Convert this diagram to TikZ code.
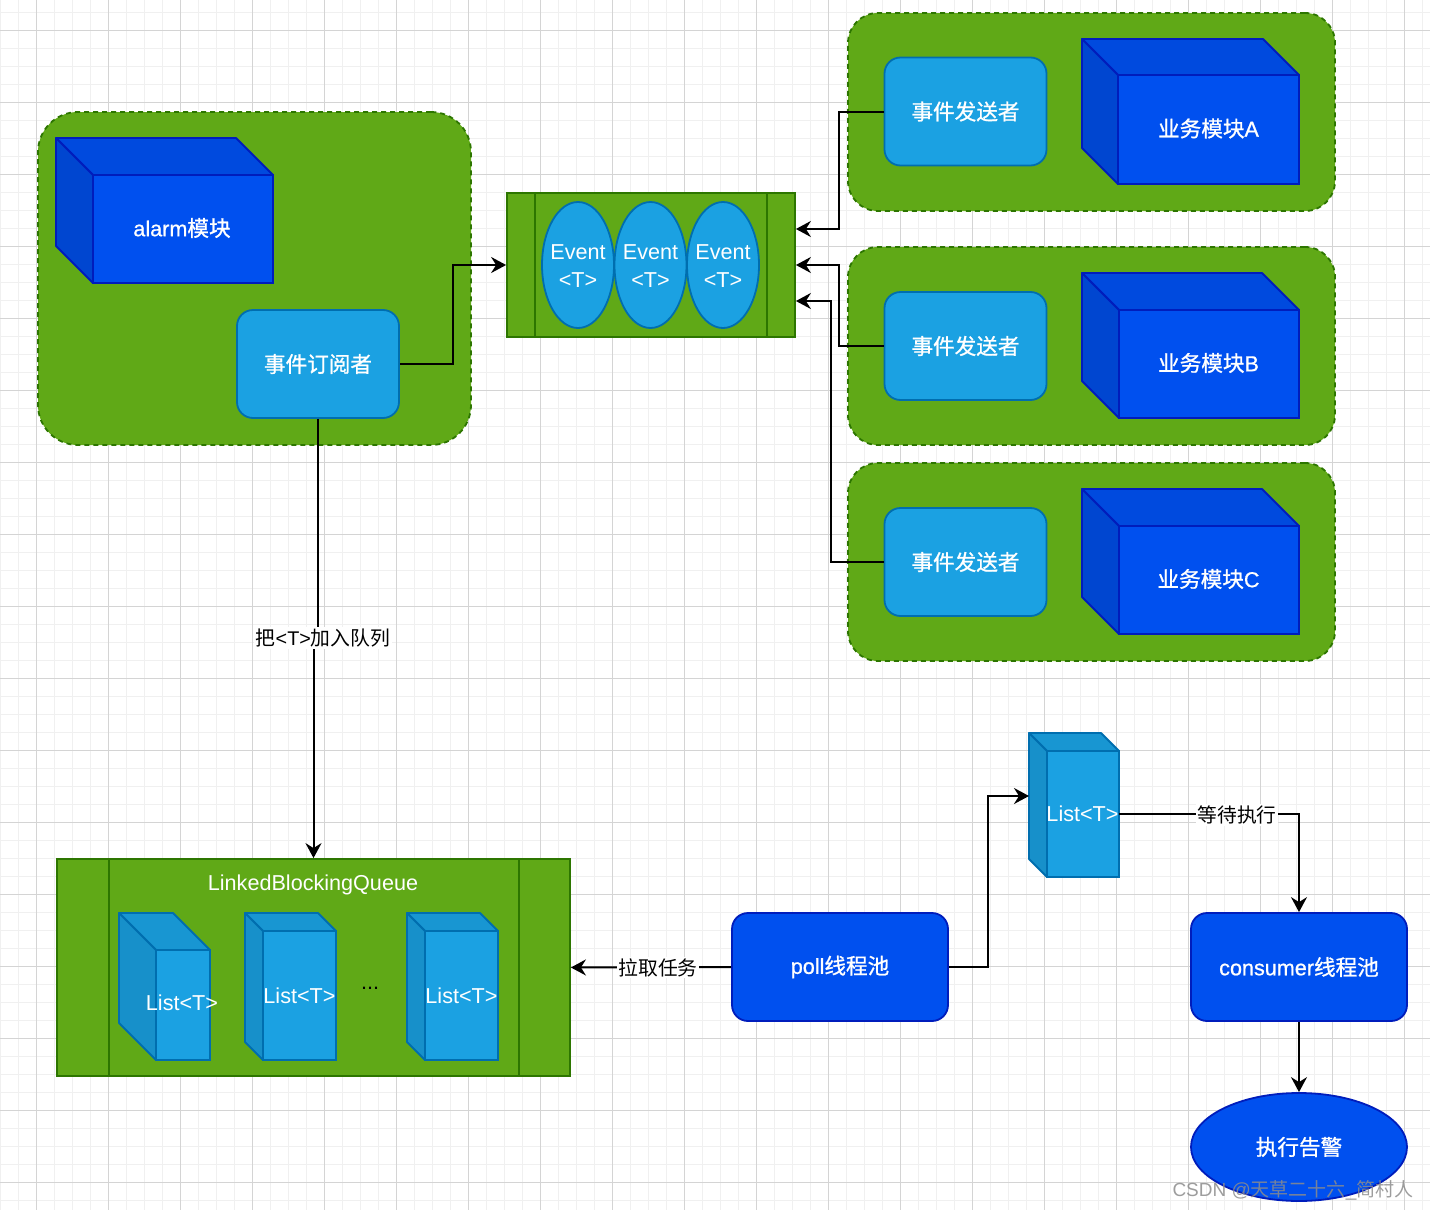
\documentclass[tikz,border=0pt]{standalone}
\usepackage{fontspec}
\setmainfont{Liberation Sans}
\newfontfamily\cjk{Noto Sans CJK SC}
\newfontfamily\cjkm[FakeBold=1.0]{Noto Sans CJK SC}
\newfontfamily\latm[FakeBold=0.8]{Liberation Sans}
\usetikzlibrary{arrows.meta,shapes.geometric}
\definecolor{grpfill}{HTML}{60A917}
\definecolor{grpline}{HTML}{2D7600}
\definecolor{bfill}{HTML}{0050EF}
\definecolor{bline}{HTML}{001DBC}
\definecolor{btop}{HTML}{004ADE}
\definecolor{bside}{HTML}{0046D0}
\definecolor{lfill}{HTML}{1BA1E2}
\definecolor{lline}{HTML}{006EAF}
\definecolor{ltop}{HTML}{1896D2}
\definecolor{lside}{HTML}{1790CA}
\definecolor{gmajor}{HTML}{D4D4D4}
\definecolor{gminor}{HTML}{F0F0F0}
\newcommand{\mainfs}{\fontsize{10.8}{14}\selectfont}
\newcommand{\lblfs}{\fontsize{9.9}{12}\selectfont}
% #1 x0, #2 y0, #3 x1, #4 y1, #5 depth, #6 colour prefix
\newcommand{\mycube}[6]{%
  \filldraw[fill=#6top,draw=#6line,line width=0.9pt,line join=round] (#1,#2) -- (#3-#5,#2) -- (#3,#2+#5) -- (#1+#5,#2+#5) -- cycle;
  \filldraw[fill=#6side,draw=#6line,line width=0.9pt,line join=round] (#1,#2) -- (#1+#5,#2+#5) -- (#1+#5,#4) -- (#1,#4-#5) -- cycle;
  \filldraw[fill=#6fill,draw=#6line,line width=0.9pt] (#1+#5,#2+#5) rectangle (#3,#4);
}
\tikzset{
  grp/.style={draw=grpline, fill=grpfill, dash pattern=on 2.5pt off 2pt, line width=0.9pt, inner sep=0},
  lbox/.style={draw=lline, fill=lfill, line width=0.9pt, rounded corners=8pt, text=white, font=\mainfs\latm, inner sep=0, minimum width=81pt, minimum height=54pt},
  bbox/.style={draw=bline, fill=bfill, line width=0.9pt, rounded corners=8pt, text=white, font=\mainfs\latm, inner sep=0, minimum width=108pt, minimum height=54pt},
  evt/.style={ellipse, draw=lline, fill=lfill, line width=0.9pt, inner sep=0, minimum width=36pt, minimum height=63pt},
  qbox/.style={draw=grpline, fill=grpfill, line width=0.9pt, inner sep=0},
  wtxt/.style={text=white, font=\mainfs, inner sep=0},
  wbtxt/.style={text=white, font=\mainfs\latm, inner sep=0},
  lbl/.style={fill=white, text=black, font=\lblfs, inner sep=0.8pt},
  arr/.style={draw=black, line width=1pt, -{Stealth[length=7.5pt,width=8pt,inset=2.5pt]}},
  gridminor/.style={draw=gminor, line width=0.5pt},
  gridmajor/.style={draw=gmajor, line width=0.5pt},
}
\begin{document}
\begin{tikzpicture}[x=0.5pt,y=-0.5pt]
\useasboundingbox (0,0) rectangle (1430,1210);
\fill[white] (0,0) rectangle (1430,1210);
% grid
\foreach \k in {0,...,79} \draw[gridminor] (\k*18,0) -- (\k*18,1210);
\foreach \k in {0,...,66} \draw[gridminor] (0,12.7+\k*18) -- (1430,12.7+\k*18);
\foreach \k in {0,...,19} \draw[gridmajor] (36+\k*72,0) -- (36+\k*72,1210);
\foreach \k in {0,...,16} \draw[gridmajor] (0,30.7+\k*72) -- (1430,30.7+\k*72);

% groups
\node[grp, rounded corners=20pt, minimum width=216.5pt, minimum height=166.5pt] (galarm) at (254.5,278.5) {};
\node[grp, rounded corners=15pt, minimum width=243.5pt, minimum height=99pt] (gA) at (1091.5,112) {};
\node[grp, rounded corners=15pt, minimum width=243.5pt, minimum height=99pt] (gB) at (1091.5,346) {};
\node[grp, rounded corners=15pt, minimum width=243.5pt, minimum height=99pt] (gC) at (1091.5,562) {};

% alarm module cube
\mycube{56}{138}{273}{283}{37}{b}
\node[wbtxt] (alarm) at (182,228) {alarm{\cjkm 模块}};
\node[lbox] (sub) at (318,364) {{\cjkm 事件订阅者}};

% business cubes
\mycube{1082}{39}{1299}{184}{36}{b}
\node[wbtxt] (modA) at (1208.5,128.5) {{\cjkm 业务模块}A};
\mycube{1082}{273}{1299}{418}{37}{b}
\node[wbtxt] (modB) at (1208.5,363) {{\cjkm 业务模块}B};
\mycube{1082}{489}{1299}{634}{37}{b}
\node[wbtxt] (modC) at (1208.5,579) {{\cjkm 业务模块}C};

\node[lbox] (sendA) at (965.5,111.5) {{\cjkm 事件发送者}};
\node[lbox] (sendB) at (965.5,346) {{\cjkm 事件发送者}};
\node[lbox] (sendC) at (965.5,562) {{\cjkm 事件发送者}};

% event queue
\node[qbox, minimum width=144pt, minimum height=72pt] (queue) at (651,265) {};
\draw[grpline, line width=0.9pt] ([xshift=14.5pt]queue.north west) -- ([xshift=14.5pt]queue.south west);
\draw[grpline, line width=0.9pt] ([xshift=-14.5pt]queue.north east) -- ([xshift=-14.5pt]queue.south east);
\node[evt] (e1) at (578,265) {};
\node[evt] (e2) at (650.5,265) {};
\node[evt] (e3) at (723,265) {};
\node[wtxt, align=center] (t1) at (578,266) {Event\\<T>};
\node[wtxt, align=center] (t2) at (650.5,266) {Event\\<T>};
\node[wtxt, align=center] (t3) at (723,266) {Event\\<T>};

% LinkedBlockingQueue
\node[qbox, minimum width=256.5pt, minimum height=108.5pt] (lbq) at (313.5,967.5) {};
\draw[grpline, line width=0.9pt] ([xshift=26.25pt]lbq.north west) -- ([xshift=26.25pt]lbq.south west);
\draw[grpline, line width=0.9pt] ([xshift=-26pt]lbq.north east) -- ([xshift=-26pt]lbq.south east);
\node[wtxt] (lbqtitle) at (313,885) {LinkedBlockingQueue};
\mycube{119}{913}{210}{1060}{37}{l}
\node[wtxt] (list1) at (182,1003) {List<T>};
\mycube{245}{913}{336}{1060}{18}{l}
\node[wtxt] (list2) at (299.5,995.5) {List<T>};
\mycube{407}{913}{498}{1060}{18}{l}
\node[wtxt] (list3) at (461.5,995.5) {List<T>};
\node[text=black, font=\mainfs, inner sep=0] (dots) at (370,988) {...};

% thread pools
\node[bbox] (poll) at (840,967) {poll{\cjkm 线程池}};
\node[bbox] (consumer) at (1299,967) {consumer{\cjkm 线程池}};
\node[ellipse, draw=bline, fill=bfill, line width=0.9pt, text=white, font=\mainfs, inner sep=0, minimum width=108pt, minimum height=54pt] (alert) at (1299,1147) {{\cjkm 执行告警}};

% list waiting
\mycube{1029}{733}{1119}{877}{18}{l}
\node[wtxt, minimum width=36.5pt, minimum height=63pt] (listR) at (1082.5,814) {List<T>};
\coordinate (listRin) at (1029,796);

% connectors
\draw[arr] (sub.east) -- (453,364) -- (453,265) -- (queue.west);
\draw[arr] (sendA.west) -- (839.3,111.5) -- (839.3,229) -- ([yshift=18pt]queue.east);
\draw[arr] (sendB.west) -- (839.3,346) -- (839.3,265) -- (queue.east);
\draw[arr] (sendC.west) -- (831,562) -- (831,301) -- ([yshift=-18pt]queue.east);
\draw[arr] (sub.south) -- (318,637) -- (313.5,637) -- (lbq.north -| 313.5,0);
\draw[arr] (poll.west) -- (lbq.east);
\draw[arr] (poll.east) -- (988,967) -- (988,796) -- (listRin);
\draw[arr] (listR.east) -- (consumer.north |- listR.east) -- (consumer.north);
\draw[arr] (consumer.south) -- (alert.north);

% edge labels
\node[lbl] (l1) at (323,638) {{\cjk 把}<T>{\cjk 加入队列}};
\node[lbl] (l2) at (658,967.5) {{\cjk 拉取任务}};
\node[lbl] (l3) at (1237,815) {{\cjk 等待执行}};

% watermark
\node[text=black!45, text opacity=0.85, font=\fontsize{9.5}{11}\selectfont, inner sep=0] (wm) at (1293,1190) {CSDN @{\cjk 天草二十六}\_{\cjk 简村人}};
\end{tikzpicture}
\end{document}
